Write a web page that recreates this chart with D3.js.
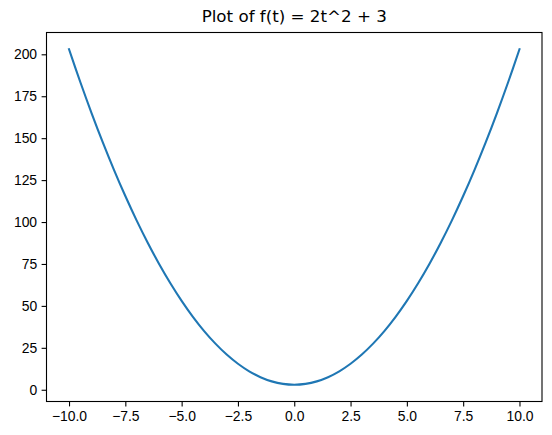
<!DOCTYPE html>
<html>
<head>
<meta charset="utf-8">
<script src="https://cdn.jsdelivr.net/npm/d3@7.9.0/dist/d3.min.js"></script>
<style>
  body { margin: 0; background: #fff; }
  svg { display: block; font-family: "DejaVu Sans", sans-serif; }
  .tick text { font-size: 13.9px; fill: #000; }
  .domain { display: none; }
</style>
</head>
<body>
<svg id="chart" width="552" height="435"></svg>
<script>
// values
const tValues = [-10, -9.5, -9, -8.5, -8, -7.5, -7, -6.5, -6, -5.5, -5, -4.5, -4, -3.5, -3, -2.5, -2, -1.5, -1, -0.5,
  0, 0.5, 1, 1.5, 2, 2.5, 3, 3.5, 4, 4.5, 5, 5.5, 6, 6.5, 7, 7.5, 8, 8.5, 9, 9.5, 10];
const fValues = [203, 183.5, 165, 147.5, 131, 115.5, 101, 87.5, 75, 63.5, 53, 43.5, 35, 27.5, 21, 15.5, 11, 7.5, 5, 3.5,
  3, 3.5, 5, 7.5, 11, 15.5, 21, 27.5, 35, 43.5, 53, 63.5, 75, 87.5, 101, 115.5, 131, 147.5, 165, 183.5, 203];
const xTicks = [-10, -7.5, -5, -2.5, 0, 2.5, 5, 7.5, 10];
const yTicks = [0, 25, 50, 75, 100, 125, 150, 175, 200];
const title = 'Plot of f(t) = 2t^2 + 3';

const plotLeft = 46.5, plotRight = 542, plotTop = 32.5, plotBottom = 401.5;
const svg = d3.select('#chart');

const x = d3.scaleLinear().domain([-11, 11]).range([plotLeft, plotRight]);
const y = d3.scaleLinear().domain([-7, 213]).range([plotBottom, plotTop]);

const minus = (s) => s.replace('-', '\u2212');

// axes
svg.append('g')
  .attr('transform', `translate(0,${plotBottom})`)
  .call(d3.axisBottom(x).tickValues(xTicks).tickSize(4.9).tickPadding(4.5)
    .tickFormat((d) => minus(d3.format('.1f')(d))))
  .call((g) => g.selectAll('.tick line').attr('stroke', '#000').attr('stroke-width', 1.1))
  .call((g) => g.selectAll('.tick text').attr('dy', '0.76em'));

svg.append('g')
  .attr('transform', `translate(${plotLeft},0)`)
  .call(d3.axisLeft(y).tickValues(yTicks).tickSize(4.9).tickPadding(4.5)
    .tickFormat((d) => minus(String(d))))
  .call((g) => g.selectAll('.tick line').attr('stroke', '#000').attr('stroke-width', 1.1));

// the curve
const pts = tValues.map((t, i) => [t, fValues[i]]);
const line = d3.line()
  .x((d) => x(d[0]))
  .y((d) => y(d[1]))
  .curve(d3.curveCatmullRom);

svg.append('path')
  .datum(pts)
  .attr('d', line)
  .attr('fill', 'none')
  .attr('stroke', '#1f77b4')
  .attr('stroke-width', 2.1)
  .attr('stroke-linecap', 'square');

// frame
svg.append('rect')
  .attr('x', plotLeft).attr('y', plotTop)
  .attr('width', plotRight - plotLeft).attr('height', plotBottom - plotTop)
  .attr('fill', 'none').attr('stroke', '#000').attr('stroke-width', 1.1);

svg.append('text')
  .attr('x', (plotLeft + plotRight) / 2)
  .attr('y', 22)
  .attr('text-anchor', 'middle')
  .attr('font-size', 16.7)
  .text(title);
</script>
</body>
</html>
